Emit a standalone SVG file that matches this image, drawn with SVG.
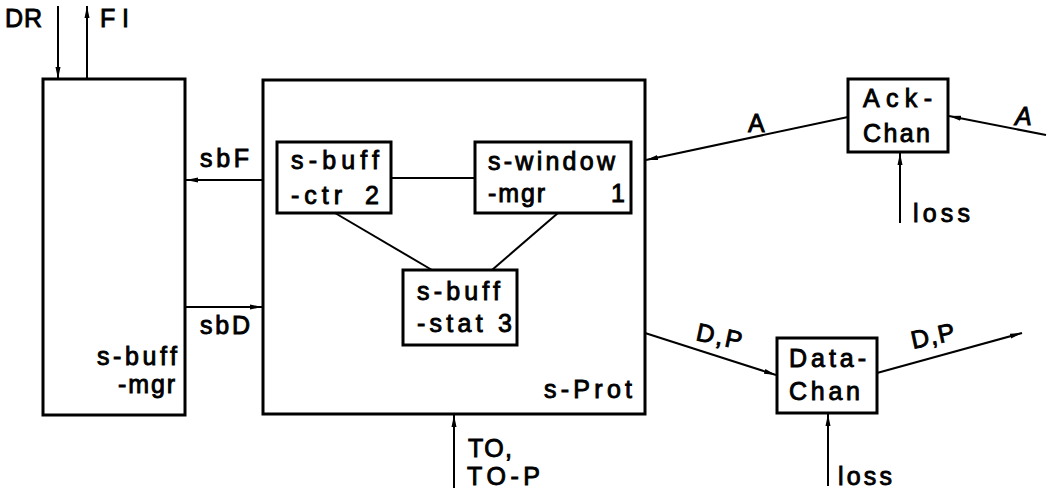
<svg xmlns="http://www.w3.org/2000/svg" width="1051" height="493" viewBox="0 0 1051 493">
<defs>
<style>
.box{fill:none;stroke:#000;stroke-width:3}
.ln{fill:none;stroke:#000;stroke-width:2}
.ar{fill:none;stroke:#000;stroke-width:2;marker-end:url(#ah)}
text{font-family:"Liberation Sans",Arial,sans-serif;font-size:25px;fill:#000;stroke:#000;stroke-width:0.9}
</style>
<marker id="ah" viewBox="0 0 12 6" refX="12" refY="3" markerWidth="12" markerHeight="6" markerUnits="userSpaceOnUse" orient="auto">
<path d="M0,0.5 L12,3 L0,5.5 Z" fill="#000"/>
</marker>
</defs>
<rect width="1051" height="493" fill="#fff"/>

<g id="s-buff-mgr">
<rect class="box" x="43" y="79" width="142" height="336"/>
<text x="97" y="365" textLength="80" lengthAdjust="spacing">s-buff</text>
<text x="118" y="393" textLength="57" lengthAdjust="spacing">-mgr</text>
</g>

<g id="s-Prot">
<rect class="box" x="263" y="80" width="382" height="334"/>
<text x="544" y="398" textLength="88" lengthAdjust="spacing">s-Prot</text>
</g>

<g id="s-buff-ctr">
<rect class="box" x="277" y="142" width="114" height="71"/>
<text x="291" y="169" textLength="88" lengthAdjust="spacing">s-buff</text>
<text x="291" y="204" textLength="51" lengthAdjust="spacing">-ctr</text>
<text x="365" y="204" textLength="17" lengthAdjust="spacing">2</text>
</g>

<g id="s-window-mgr">
<rect class="box" x="475" y="142" width="156" height="71"/>
<text x="488" y="170" textLength="127" lengthAdjust="spacing">s-window</text>
<text x="488" y="202" textLength="57" lengthAdjust="spacing">-mgr</text>
<text x="611" y="202" textLength="12" lengthAdjust="spacing">1</text>
</g>

<g id="s-buff-stat">
<rect class="box" x="403" y="270" width="114" height="75"/>
<text x="417" y="300" textLength="83" lengthAdjust="spacing">s-buff</text>
<text x="417" y="332" textLength="95" lengthAdjust="spacing">-stat 3</text>
</g>

<g id="Ack-Chan">
<rect class="box" x="848" y="79" width="100" height="73"/>
<text x="863" y="107" textLength="69" lengthAdjust="spacing">Ack-</text>
<text x="863" y="142" textLength="67" lengthAdjust="spacing">Chan</text>
</g>

<g id="Data-Chan">
<rect class="box" x="777" y="338" width="100" height="75"/>
<text x="789" y="367" textLength="77" lengthAdjust="spacing">Data-</text>
<text x="789" y="400" textLength="71" lengthAdjust="spacing">Chan</text>
</g>

<g id="connectors">
<line class="ar" x1="58" y1="6" x2="58" y2="79"/>
<line class="ar" x1="87" y1="79" x2="87" y2="6"/>
<line class="ar" x1="263" y1="180" x2="186" y2="180"/>
<line class="ar" x1="185" y1="307" x2="262" y2="307"/>
<line class="ln" x1="391" y1="178" x2="475" y2="178"/>
<line class="ln" x1="335" y1="213" x2="432" y2="270"/>
<line class="ln" x1="558" y1="213" x2="492" y2="270"/>
<line class="ar" x1="454" y1="488" x2="454" y2="415"/>
<line class="ar" x1="848" y1="117" x2="646" y2="160"/>
<line class="ar" x1="1046" y1="135" x2="949" y2="116"/>
<line class="ar" x1="900" y1="223" x2="900" y2="153"/>
<line class="ar" x1="645" y1="333" x2="776" y2="375"/>
<line class="ar" x1="877" y1="373" x2="1022" y2="333"/>
<line class="ar" x1="828" y1="486" x2="828" y2="414"/>
</g>

<g id="labels">
<text x="5" y="27" textLength="37" lengthAdjust="spacing">DR</text>
<text x="100" y="27" textLength="29" lengthAdjust="spacing">FI</text>
<text x="200" y="167" textLength="49" lengthAdjust="spacing">sbF</text>
<text x="200" y="334" textLength="50" lengthAdjust="spacing">sbD</text>
<text x="468" y="457" textLength="44" lengthAdjust="spacing">TO,</text>
<text x="467" y="485" textLength="73" lengthAdjust="spacing">TO-P</text>
<text x="748" y="132" textLength="19" lengthAdjust="spacing">A</text>
<text x="1015" y="125" textLength="18" lengthAdjust="spacing" font-style="italic">A</text>
<text x="913" y="222" textLength="57" lengthAdjust="spacing">loss</text>
<text x="838" y="485" textLength="54" lengthAdjust="spacing">loss</text>
<text x="0" y="0" textLength="46" lengthAdjust="spacing" transform="translate(695,340) rotate(12)">D,P</text>
<text x="0" y="0" textLength="44" lengthAdjust="spacing" transform="translate(913,349) rotate(-12)">D,P</text>
</g>
</svg>
